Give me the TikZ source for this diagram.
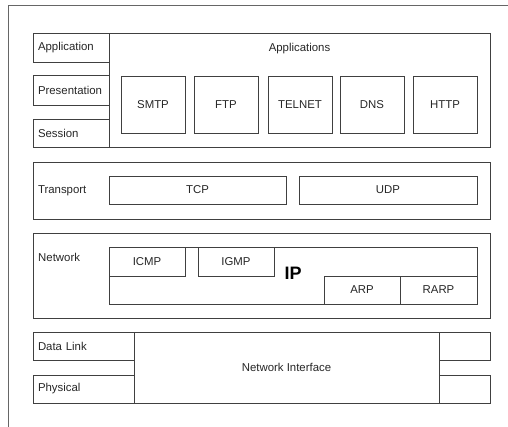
\documentclass[tikz,border=0pt]{standalone}
\usepackage{fontspec}
\setmainfont{Liberation Sans}
\begin{document}
\begin{tikzpicture}[x=1pt, y=-1pt, font=\fontsize{11.4}{13}\selectfont, text=black!85,
  box/.style={draw=black!75, line width=0.9pt, inner sep=0pt},
  side/.style={box, inner xsep=5pt, text width=#1, align=left}]
  \useasboundingbox (0,0) rectangle (508,427);

  % Frame
  \coordinate (FB) at (8,427);
  \coordinate (FC) at (8,5);
  \coordinate (FR) at (508,5);
  \draw[black!60, line width=0.9pt] (FB) -- (FC) -- (FR);

  % Application, presentation, session
  \node[side=66, minimum height=29] (app) at (71,47.5) {Application};
  \node[side=66, minimum height=30] (pres) at (71,90) {Presentation};
  \node[side=66, minimum height=28] (sess) at (71,133) {Session};
  \node[box, minimum width=381, minimum height=114] (apps) at (299.5,90) {};
  \node (appstxt) at (299.5,49) {Applications};
  \foreach \n/\x in {SMTP/153, FTP/226, TELNET/300, DNS/372, HTTP/445}
    \node[box, minimum width=64, minimum height=57] (\n) at (\x,104.5) {\n};

  % Transport
  \node[side=447, minimum height=57] (trans) at (261.5,190.5) {Transport};
  \node[box, minimum width=177, minimum height=28] (tcp) at (197.5,190) {TCP};
  \node[box, minimum width=178, minimum height=28] (udp) at (388,190) {UDP};

  % Network
  \node[box, minimum width=457, minimum height=85] (net) at (261.5,275.5) {};
  \node[anchor=west, inner sep=0pt] (nettxt) at (38,257) {Network};
  \node[box, minimum width=368, minimum height=57] (ip) at (293,275.5) {};
  \node[box, minimum width=76, minimum height=29] (icmp) at (147,261.5) {ICMP};
  \node[box, minimum width=76, minimum height=29] (igmp) at (236,261.5) {IGMP};
  \node[font=\fontsize{18}{20}\selectfont\bfseries, text=black] (iptxt) at (293,273) {IP};
  \node[box, minimum width=76, minimum height=28] (arp) at (362,290) {ARP};
  \node[box, minimum width=77, minimum height=28] (rarp) at (438.5,290) {RARP};

  % Data link, physical
  \node[side=91, minimum height=28] (dlink) at (83.5,346) {Data Link};
  \node[side=91, minimum height=28] (phys) at (83.5,389) {Physical};
  \node[box, minimum width=305, minimum height=71] (nif) at (286.5,367.5) {Network Interface};
  \node[box, minimum width=51, minimum height=28] (dlinkr) at (464.5,346) {};
  \node[box, minimum width=51, minimum height=28] (physr) at (464.5,389) {};
\end{tikzpicture}
\end{document}
